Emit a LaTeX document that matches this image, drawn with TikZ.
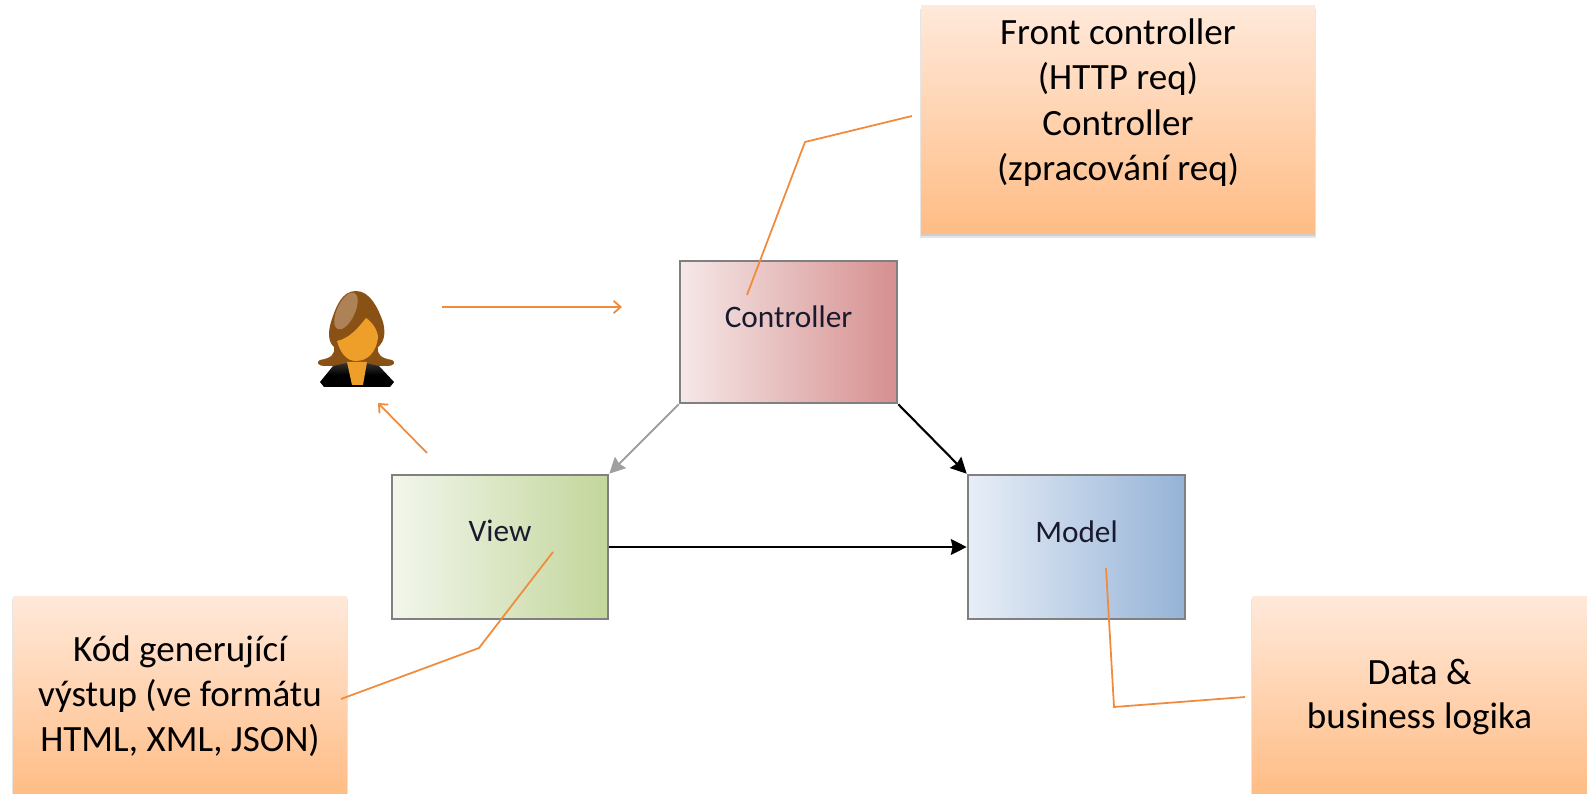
\documentclass[tikz,border=0pt]{standalone}
\usepackage{fontspec}
\setmainfont{Carlito}
\usetikzlibrary{calc,shadows,arrows.meta}
\definecolor{leader}{HTML}{F08A3C}
\definecolor{framegray}{HTML}{808080}
\definecolor{hair}{HTML}{8A5114}
\definecolor{hairlight}{HTML}{AE8257}
\definecolor{skin}{HTML}{EE9F2A}
\definecolor{noteTop}{HTML}{FFE9DA}
\definecolor{noteBottom}{HTML}{FFBC85}
\definecolor{partText}{HTML}{1A1A2E}
\definecolor{ctrlA}{HTML}{F6E8E8}
\definecolor{ctrlB}{HTML}{EACFCF}
\definecolor{ctrlC}{HTML}{D68F8F}
\definecolor{viewA}{HTML}{F2F6EC}
\definecolor{viewB}{HTML}{DCE8C8}
\definecolor{viewC}{HTML}{C3D69B}
\definecolor{modelA}{HTML}{E8EEF7}
\definecolor{modelB}{HTML}{CFDCEE}
\definecolor{modelC}{HTML}{95B3D7}
\tikzset{
  part/.style={draw=framegray,line width=1.5pt,text=partText,
    font=\fontsize{17.8}{21}\selectfont,text depth=18pt},
  note/.style={top color=noteTop,bottom color=noteBottom,draw=none,align=center,
    general shadow={fill=black,opacity=0.10,shadow yshift=-1pt},
    general shadow={fill=black,opacity=0.10,shadow yshift=-2pt,shadow scale=1.005},
    font=\fontsize{21.1}{25.5}\selectfont},
  link/.style={leader,line width=1pt},
  barb/.style={->,>={Straight Barb[length=4pt,width=7pt]},link},
  solid tip/.style={->,>={Stealth[length=9pt,width=9pt,inset=1pt]},line width=1.2pt}
}
\begin{document}
\begin{tikzpicture}[x=0.2mm,y=-0.2mm]
    \useasboundingbox(0,0)rectangle(1587,794);
    \node[note,font=\fontsize{21.1}{25.9}\selectfont,minimum width=394*0.2mm,minimum height=228*0.2mm,text depth=23pt](front)at(1118,120){Front controller\\(HTTP req)\\Controller\\(zpracování req)};
    \node[note,minimum width=334*0.2mm,minimum height=200*0.2mm](code)at(180,696){Kód generující\\výstup (ve formátu\\HTML, XML, JSON)};
    \node[note,minimum width=335*0.2mm,minimum height=199*0.2mm,text depth=2pt](data)at(1419.5,695.5){Data \&\\business logika};
    \node[part,minimum width=217*0.2mm,minimum height=142*0.2mm,left color=ctrlA,middle color=ctrlB,right color=ctrlC](controller)at(788.5,332){Controller};
    \node[part,minimum width=216*0.2mm,minimum height=144*0.2mm,left color=viewA,middle color=viewB,right color=viewC](view)at(500,547){View};
    \node[part,minimum width=217*0.2mm,minimum height=144*0.2mm,left color=modelA,middle color=modelB,right color=modelC](model)at(1076.5,547){Model};
    \draw[solid tip,framegray!75](controller.south west)--(view.north east);
    \draw[solid tip,black](controller.south east)--(model.north west);
    \draw[solid tip,black](view.east)--(model.west);
    \coordinate(userin)at(622,307);
    \coordinate(userout)at(442,307);
    \coordinate(viewout)at(427,453);
    \coordinate(viewuser)at(378,403);
    \draw[barb](userout)--(userin);
    \draw[barb](viewout)--(viewuser);
    \coordinate(frontend)at(912,116);
    \coordinate(frontbend)at(805,142);
    \coordinate(frontpart)at(747,295);
    \draw[link](frontend)--(frontbend)--(frontpart);
    \coordinate(codeend)at(341,699);
    \coordinate(codebend)at(479,648);
    \coordinate(codepart)at(553,552);
    \draw[link](codeend)--(codebend)--(codepart);
    \coordinate(dataend)at(1245,697);
    \coordinate(databend)at(1114,707);
    \coordinate(datapart)at(1106,568);
    \draw[link](dataend)--(databend)--(datapart);
    \fill[hair](356,291)..controls(370,291)and(378,308)..(383,322)..controls(386,334)and(384,342)..(378,347)..controls(377,355)and(381,358)..(392,360)..controls(396,362)and(394,366)..(388,366)--(324,366)..controls(318,366)and(316,362)..(320,360)..controls(331,358)and(335,355)..(334,347)..controls(328,342)and(328,332)..(331,322)..controls(336,306)and(342,291)..(356,291)--cycle;
    \shade[top color=black!80,bottom color=black,middle color=black](333,366)--(347,363)--(365,363)--(379,366)--(394,382)--(390,387)--(324,387)--(320,382)--cycle;
    \fill[skin](347,362)--(367,362)--(363,385)--(352,385)--cycle;
    \fill[skin](337,341)..controls(350,338)and(358,328)..(366,318)..controls(372,322)and(378,330)..(378,338)..controls(376,352)and(368,361)..(356,361)..controls(346,361)and(340,352)..(337,341)--cycle;
    \fill[hairlight,rotate around={-25:(346,311)}](346,311)ellipse(9 and 20);
\end{tikzpicture}
\end{document}
